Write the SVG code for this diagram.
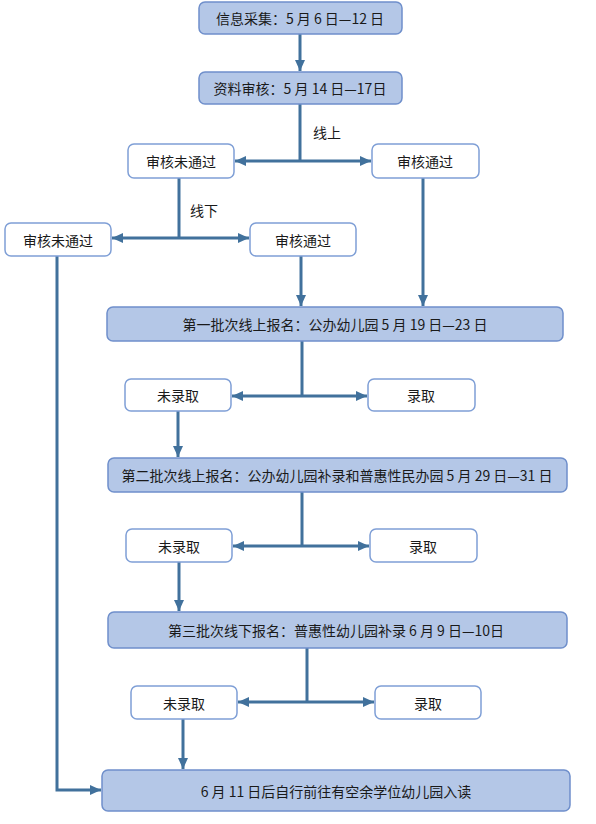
<svg xmlns="http://www.w3.org/2000/svg" width="596" height="824" viewBox="0 0 596 824">
<style>
.hd{fill:#b4c7e7;stroke:#6f8fcb;stroke-width:1.5}
.wt{fill:#ffffff;stroke:#7f9fd6;stroke-width:1.5}
text{font-family:"Noto Sans CJK SC","Microsoft YaHei",sans-serif;font-size:14px;fill:#1a1a1a;text-anchor:middle;dominant-baseline:central}
.c{fill:none;stroke:#41719c;stroke-width:3}
.lb{text-anchor:start}
</style>
<defs>
<marker id="a" markerUnits="userSpaceOnUse" markerWidth="12" markerHeight="10" refX="11" refY="5" orient="auto">
<path d="M0,0 L11,5 L0,10 Z" fill="#41719c"/>
</marker>
</defs>
<rect width="596" height="824" fill="#ffffff"/>
<g id="connectors">
<path class="c" d="M300,34 V71" marker-end="url(#a)"/>
<path class="c" d="M300,104 V161"/>
<path class="c" d="M300,161 H371" marker-end="url(#a)"/>
<path class="c" d="M300,161 H235" marker-end="url(#a)"/>
<path class="c" d="M179,178 V238"/>
<path class="c" d="M179,238 H112" marker-end="url(#a)"/>
<path class="c" d="M179,238 H249" marker-end="url(#a)"/>
<path class="c" d="M301,256 V306" marker-end="url(#a)"/>
<path class="c" d="M423,178 V306" marker-end="url(#a)"/>
<path class="c" d="M302,341 V396"/>
<path class="c" d="M302,396 H232" marker-end="url(#a)"/>
<path class="c" d="M302,396 H367" marker-end="url(#a)"/>
<path class="c" d="M178,411 V457" marker-end="url(#a)"/>
<path class="c" d="M302,492 V546"/>
<path class="c" d="M302,546 H233" marker-end="url(#a)"/>
<path class="c" d="M302,546 H369" marker-end="url(#a)"/>
<path class="c" d="M179,562 V611" marker-end="url(#a)"/>
<path class="c" d="M307,648 V702"/>
<path class="c" d="M307,702 H238" marker-end="url(#a)"/>
<path class="c" d="M307,702 H374" marker-end="url(#a)"/>
<path class="c" d="M183,719 V769" marker-end="url(#a)"/>
<path class="c" d="M57,256 V790 H101" marker-end="url(#a)"/>
<text class="lb" x="313" y="132">线上</text>
<text class="lb" x="190" y="210">线下</text>
</g>
<g id="n1"><rect class="hd" x="199" y="2" width="203" height="32" rx="6"/><text x="300" y="18">信息采集：5 月 6 日—12 日</text></g>
<g id="n2"><rect class="hd" x="199" y="72" width="203" height="32" rx="6"/><text x="300" y="88">资料审核：5 月 14 日—17日</text></g>
<g id="n3"><rect class="wt" x="128" y="144" width="106" height="34" rx="6"/><text x="181" y="161">审核未通过</text></g>
<g id="n4"><rect class="wt" x="372" y="144" width="107" height="34" rx="6"/><text x="425" y="161">审核通过</text></g>
<g id="n5"><rect class="wt" x="5" y="223" width="106" height="33" rx="6"/><text x="58" y="240">审核未通过</text></g>
<g id="n6"><rect class="wt" x="250" y="223" width="106" height="33" rx="6"/><text x="303" y="240">审核通过</text></g>
<g id="n7"><rect class="hd" x="107" y="307" width="456" height="34" rx="6"/><text x="335" y="324">第一批次线上报名：公办幼儿园 5 月 19 日—23 日</text></g>
<g id="n8"><rect class="wt" x="125" y="379" width="106" height="32" rx="6"/><text x="178" y="395">未录取</text></g>
<g id="n9"><rect class="wt" x="368" y="379" width="107" height="32" rx="6"/><text x="421" y="395">录取</text></g>
<g id="n10"><rect class="hd" x="108" y="458" width="459" height="34" rx="6"/><text x="337" y="475">第二批次线上报名：公办幼儿园补录和普惠性民办园 5 月 29 日—31 日</text></g>
<g id="n11"><rect class="wt" x="126" y="529" width="106" height="33" rx="6"/><text x="179" y="546">未录取</text></g>
<g id="n12"><rect class="wt" x="370" y="529" width="107" height="33" rx="6"/><text x="423" y="546">录取</text></g>
<g id="n13"><rect class="hd" x="108" y="612" width="459" height="36" rx="6"/><text x="336" y="630">第三批次线下报名：普惠性幼儿园补录 6 月 9 日—10日</text></g>
<g id="n14"><rect class="wt" x="131" y="686" width="106" height="33" rx="6"/><text x="184" y="703">未录取</text></g>
<g id="n15"><rect class="wt" x="375" y="686" width="106" height="33" rx="6"/><text x="428" y="703">录取</text></g>
<g id="n16"><rect class="hd" x="102" y="770" width="468" height="41" rx="6"/><text x="336" y="791">6 月 11 日后自行前往有空余学位幼儿园入读</text></g>
</svg>
